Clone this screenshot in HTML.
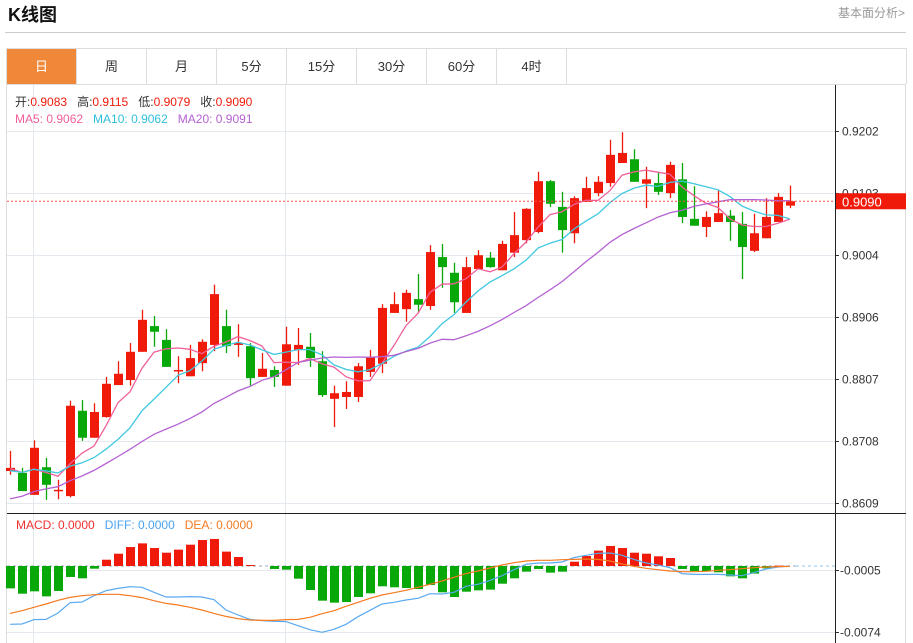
<!DOCTYPE html>
<html><head><meta charset="utf-8"><style>
html,body{margin:0;padding:0;background:#fff;width:913px;height:643px;overflow:hidden;font-family:"Liberation Sans","Noto Sans CJK SC",sans-serif}
#title{position:absolute;left:8px;top:1px;font-size:18px;font-weight:bold;color:#111}
#fund{position:absolute;right:8px;top:4px;font-size:12px;color:#999}
#hr{position:absolute;left:5px;top:32px;width:901px;height:1px;background:#ccc}
#tabs{position:absolute;left:6px;top:48px;width:899px;height:35px;border:1px solid #ddd;border-bottom:none;display:flex}
.tab{width:70px;height:35px;line-height:35px;text-align:center;font-size:13px;color:#333;border-right:1px solid #ddd;box-sizing:border-box}
.tab.on{background:#f0883a;color:#fff}
svg{position:absolute;left:0;top:0}
</style></head><body>
<div id="title">K线图</div>
<div id="fund">基本面分析&gt;</div>
<div id="hr"></div>
<div id="tabs">
<div class="tab on">日</div>
<div class="tab">周</div>
<div class="tab">月</div>
<div class="tab">5分</div>
<div class="tab">15分</div>
<div class="tab">30分</div>
<div class="tab">60分</div>
<div class="tab">4时</div>
</div>
<svg id="chart" width="913" height="643" xmlns="http://www.w3.org/2000/svg"></svg>
<script>
const opens=[.8660,.8657,.8622,.8666,.8628,.8620,.8756,.8713,.8746,.8797,.8805,.8850,.8891,.8869,.8819,.8811,.8832,.8861,.8891,.8861,.8859,.8810,.8821,.8796,.8853,.8858,.8835,.8775,.8778,.8778,.8818,.8831,.8912,.8918,.8934,.8923,.9001,.8976,.8912,.8982,.9000,.8980,.9008,.9028,.9041,.9122,.9081,.9039,.9089,.9103,.9119,.9151,.9157,.9118,.9119,.9103,.9125,.9062,.9049,.9057,.9067,.9054,.9011,.9031,.9057,.9083];
const highs=[.8692,.8665,.8709,.8681,.8646,.8772,.8773,.8768,.8810,.8835,.8864,.8917,.8907,.8886,.8843,.8861,.8870,.8957,.8917,.8894,.8864,.8848,.8827,.8890,.8888,.8880,.8851,.8796,.8803,.8832,.8853,.8926,.8945,.8949,.8974,.9020,.9022,.8992,.9001,.9012,.9009,.9027,.9073,.9079,.9137,.9124,.9105,.9098,.9129,.9130,.9188,.9200,.9173,.9145,.9137,.9153,.9151,.9114,.9074,.9108,.9076,.9073,.9070,.9095,.9103,.9115];
const lows=[.8654,.8628,.8622,.8614,.8615,.8618,.8708,.8713,.8745,.8797,.8796,.8850,.8858,.8826,.8800,.8811,.8819,.8851,.8848,.8842,.8796,.8810,.8794,.8796,.8829,.8826,.8778,.8730,.8759,.8770,.8810,.8816,.8912,.8898,.8912,.8917,.8952,.8912,.8912,.8982,.8984,.8980,.9001,.9023,.9039,.9081,.9008,.9023,.9089,.9098,.9113,.9151,.9121,.9079,.9100,.9095,.9055,.9051,.9033,.9057,.9027,.8966,.9009,.9031,.9057,.9079];
const closes=[.8665,.8628,.8697,.8638,.8630,.8764,.8713,.8754,.8799,.8815,.8850,.8901,.8882,.8826,.8821,.8840,.8866,.8942,.8859,.8864,.8808,.8823,.8810,.8862,.8861,.8840,.8781,.8784,.8786,.8827,.8842,.8920,.8926,.8944,.8925,.9009,.8985,.8929,.8985,.9004,.8985,.9022,.9036,.9078,.9122,.9086,.9044,.9095,.9111,.9121,.9164,.9167,.9121,.9125,.9105,.9148,.9065,.9051,.9065,.9071,.9057,.9017,.9039,.9065,.9097,.9090];
const priorCloses=[.8540,.8550,.8555,.8560,.8570,.8565,.8575,.8580,.8590,.8620,.8655,.8650,.8660,.8665,.8655,.8660,.8670,.8665,.8660];
const priceTicks=["0.9202","0.9103","0.9004","0.8906","0.8807","0.8708","0.8609"];
// MACD values in units of 0.0001
const macdHist=[-24.9,-30.8,-28.2,-33.8,-27.8,-12.2,-13.7,-3.0,7.0,13.7,21.1,25.2,20.0,14.8,18.2,23.7,28.9,30.1,16.0,10.0,1.1,0,-3.3,-4.1,-14.1,-26.7,-38.6,-40.8,-40.1,-34.5,-30.4,-22.6,-23.7,-24.5,-25.6,-21.1,-29.3,-34.5,-28.6,-27.1,-26.3,-19.7,-13.7,-6.3,-3.3,-7.4,-6.3,4.8,11.1,17.1,22.3,20.0,14.8,13.7,10.8,8.9,-3.3,-5.6,-5.6,-7.0,-11.5,-13.7,-8.5,-2.6,0.4,0];
const diffValues=[-64.9,-64.6,-59.7,-59.4,-52.3,-40.8,-40.1,-33.0,-27.5,-24.9,-23.0,-23.7,-29.3,-34.5,-34.5,-34.1,-34.5,-37.5,-49.0,-54.5,-59.4,-60.8,-61.6,-61.9,-66.4,-70.9,-73.8,-70.5,-64.9,-56.4,-49.3,-42.3,-40.4,-37.8,-36.0,-30.8,-31.2,-29.3,-22.6,-20.4,-16.0,-10.8,-4.1,1.9,3.3,3.3,4.5,9.3,11.9,14.1,14.5,11.9,7.4,3.3,1.1,-1.9,-8.5,-9.3,-9.3,-9.3,-10.0,-10.8,-7.4,-3.3,-1.1,0];
const deaValues=[-52.7,-49.7,-46.0,-42.3,-38.2,-34.9,-33.0,-31.9,-31.5,-31.5,-33.0,-35.2,-38.6,-41.6,-43.4,-46.0,-49.0,-52.7,-56.1,-58.6,-60.1,-60.5,-60.5,-59.7,-59.4,-57.1,-53.1,-49.7,-44.9,-40.4,-36.0,-32.3,-29.7,-27.1,-23.7,-20.4,-16.7,-12.6,-8.5,-5.6,-2.2,1.1,3.7,5.6,6.3,6.3,7.0,7.4,7.8,7.4,5.6,2.2,-0.4,-2.6,-4.1,-5.6,-6.3,-6.3,-5.9,-4.8,-4.1,-3.0,-1.9,-1.1,-0.7,-0.4];
const macdTicks=[-5,-74];

const NS="http://www.w3.org/2000/svg";
const svg=document.getElementById('chart');
const RED="#f01a0a",GREEN="#08a808";
const xAt=i=>10+12*i;
const yP=p=>131+(0.9202-p)*6273;
const yM=v=>566-v*0.8985;
function mk(tag,attrs,parent){const e=document.createElementNS(NS,tag);for(const k in attrs)e.setAttribute(k,attrs[k]);(parent||svg).appendChild(e);return e;}

// frame
const frame=mk('rect',{x:6.5,y:84.5,width:899,height:560,fill:'none',stroke:'#ddd'});


// vertical grid
[33,285].forEach(x=>{const g=mk('line',{x1:x+.5,x2:x+.5,y1:85,y2:643,stroke:'#e4e9ef'});

});
// price grid + ticks
priceTicks.forEach(t=>{const y=Math.round(yP(+t))+.5;
const g=mk('line',{x1:7,x2:835,y1:y,y2:y,stroke:'#e4e9ef'});


mk('line',{x1:835,x2:839,y1:y,y2:y,stroke:'#333'});
const tx=mk('text',{x:842,y:y+4,'font-size':12,fill:'#333'});tx.textContent=t;

});
// MACD grid
macdTicks.forEach(v=>{const y=Math.round(yM(v))+.5;
const g=mk('line',{x1:7,x2:835,y1:y,y2:y,stroke:'#e4e9ef'});


mk('line',{x1:835,x2:839,y1:y,y2:y,stroke:'#333'});
const tx=mk('text',{x:840,y:y+4,'font-size':12,fill:'#333'});tx.textContent=(v/10000).toFixed(4);

});
// zero line
const z=yM(0);
mk('line',{x1:7,x2:xAt(closes.length-1)+6,y1:z,y2:z,stroke:'#9ab',"stroke-dasharray":"3,3"});
mk('line',{x1:xAt(closes.length-1)+6,x2:835,y1:z,y2:z,stroke:'#8cc8f0',"stroke-dasharray":"3,3"});
// axes
const ax=mk('line',{x1:835.5,x2:835.5,y1:85,y2:643,stroke:'#222'});


const sep=mk('line',{x1:7,x2:906,y1:513.5,y2:513.5,stroke:'#222'});



// candles
closes.forEach((c,i)=>{const o=opens[i],up=c>=o,col=up?RED:GREEN,x=xAt(i);
const g=mk('g',{});


mk('line',{x1:x+.5,x2:x+.5,y1:yP(highs[i]),y2:yP(lows[i]),stroke:col,'stroke-width':1.3},g);
const t=yP(Math.max(o,c)),b=yP(Math.min(o,c));
mk('rect',{x:x-4,y:t,width:9,height:Math.max(1.5,b-t),fill:col},g);});

// MA lines
const all=priorCloses.concat(closes);
function ma(n){return closes.map((_,i)=>{const j=i+priorCloses.length;let s=0;for(let k=j-n+1;k<=j;k++)s+=all[k];return s/n;});}
[[5,'#f0609a','ma5-line'],[10,'#40c8e0','ma10-line'],[20,'#b462d2','ma20-line']].forEach(([n,col,name])=>{
const pts=ma(n).map((v,i)=>xAt(i)+','+yP(v).toFixed(1)).join(' ');
const l=mk('polyline',{points:pts,fill:'none',stroke:col,'stroke-width':1.3});

});

// current price line
const last=closes[closes.length-1],ly=yP(last);
const cl=mk('line',{x1:7,x2:835,y1:ly,y2:ly,stroke:'#f05050','stroke-dasharray':'2,2'});


mk('rect',{x:836,y:ly-8,width:70,height:16,fill:'#f01a0a'});
const lt=mk('text',{x:842,y:ly+5,'font-size':13,fill:'#fff'});lt.textContent=last.toFixed(4);



// MACD hist
macdHist.forEach((v,i)=>{const x=xAt(i),y=yM(v);
const r=mk('rect',{x:x-4,y:Math.min(y,z),width:9,height:Math.max(Math.abs(y-z),v===0?0:1),fill:v>=0?RED:GREEN});

});
[[diffValues,'#5aaaf0','diff-line'],[deaValues,'#f57a20','dea-line']].forEach(([arr,col,name])=>{
const l=mk('polyline',{points:arr.map((v,i)=>xAt(i)+','+yM(v).toFixed(1)).join(' '),fill:'none',stroke:col,'stroke-width':1.2});

});

// info text
function txt(x,y,parts,name){const t=mk('text',{x:x,y:y,'font-size':12});parts.forEach(([s,c])=>{const sp=mk('tspan',{fill:c},t);sp.textContent=s;});

}
txt(15,106,[['开:','#333'],['0.9083   ','#f01a0a'],['高:','#333'],['0.9115   ','#f01a0a'],['低:','#333'],['0.9079   ','#f01a0a'],['收:','#333'],['0.9090','#f01a0a']],'ohlc-info');
txt(15,123,[['MA5: 0.9062   ','#f0609a'],['MA10: 0.9062   ','#30c0dc'],['MA20: 0.9091','#b462d2']],'ma-legend');
txt(16,529,[['MACD: 0.0000   ','#f03030'],['DIFF: 0.0000   ','#4aa3f0'],['DEA: 0.0000','#f57a20']],'macd-legend');
svg.querySelectorAll('text').forEach(t=>t.setAttribute('xml:space','preserve'));
svg.querySelectorAll('text').forEach(t=>t.style.whiteSpace='pre');
</script>
</body></html>
